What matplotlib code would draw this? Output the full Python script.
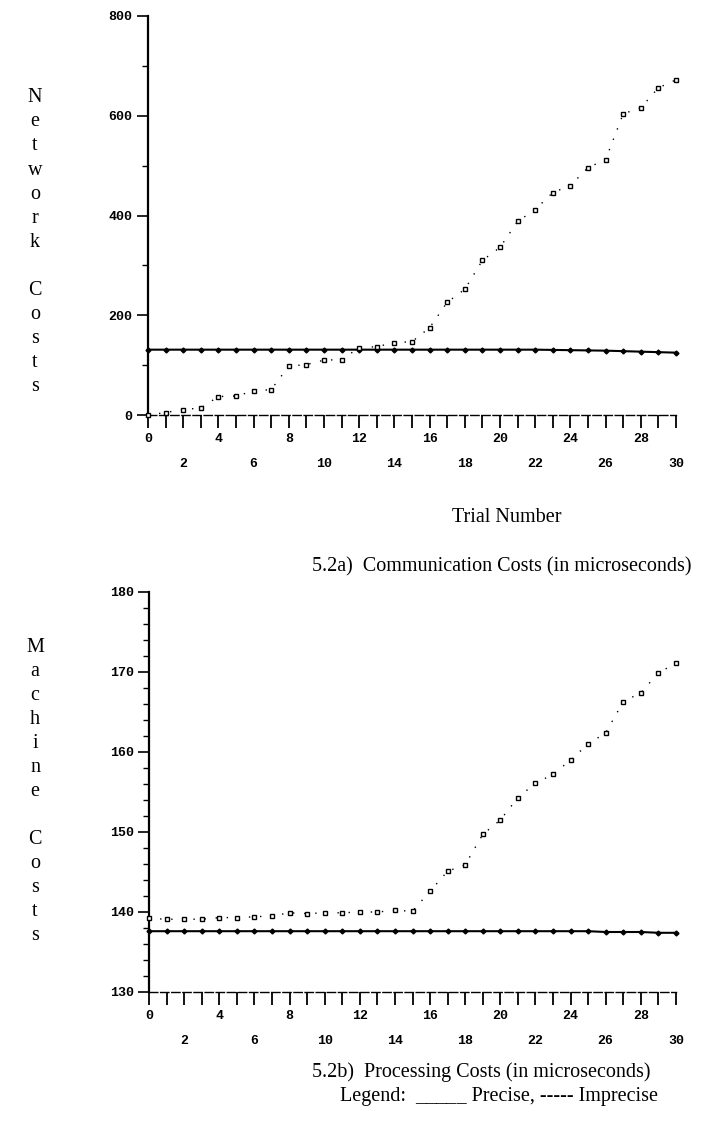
import numpy as np
import matplotlib
matplotlib.use("Agg")
import matplotlib.pyplot as plt
from matplotlib.ticker import MultipleLocator, FixedLocator

# ---- data -------------------------------------------------------------
trials = list(range(0, 31))

# Communication costs (microseconds)
comm_precise = [131, 131, 131, 131, 131, 131, 131, 131, 131, 131, 131,
                131, 131, 131, 131, 131, 131, 131, 131, 131, 131, 131,
                131, 130.5, 130, 129.5, 129, 128, 127, 126, 125]
comm_imprecise = [0, 5, 11, 14, 37, 38, 48, 51, 98, 101, 110, 111, 135,
                  137, 145, 147, 175, 226, 252, 310, 336, 388, 412, 446,
                  460, 496, 512, 604, 616, 656, 672]

# Processing costs (microseconds)
proc_precise = [137.6] * 26 + [137.5, 137.5, 137.5, 137.4, 137.4]
proc_imprecise = [139.2, 139.1, 139.1, 139.1, 139.3, 139.3, 139.4, 139.5,
                  139.9, 139.8, 139.9, 139.9, 140.0, 140.0, 140.2, 140.1,
                  142.6, 145.1, 145.9, 149.7, 151.5, 154.3, 156.1, 157.2,
                  159.0, 161.0, 162.4, 166.3, 167.4, 169.9, 171.1]

comm_yticks = [0, 200, 400, 600, 800]
proc_yticks = [130, 140, 150, 160, 170, 180]

SERIF = "Liberation Serif"
MONO = "Liberation Mono"
TEXT_SIZE = 14.5

fig = plt.figure(figsize=(7.05, 11.29), dpi=100)


def style_axes(ax, ylim, yticks, yminor):
    ax.set_xlim(0, 30)
    ax.set_ylim(*ylim)
    for side in ("top", "right"):
        ax.spines[side].set_visible(False)
    ax.spines["left"].set_linewidth(1.6)
    ax.spines["bottom"].set_linewidth(1.0)
    ax.spines["bottom"].set_linestyle((0, (6, 2)))

    ax.yaxis.set_major_locator(FixedLocator(yticks))
    ax.yaxis.set_minor_locator(MultipleLocator(yminor))
    ax.set_yticklabels([str(v) for v in yticks], fontfamily=MONO,
                       fontweight="bold", fontsize=9.5)
    ax.tick_params(axis="y", which="major", direction="out", length=8,
                   width=1.2, pad=3)
    ax.tick_params(axis="y", which="minor", direction="out", length=4,
                   width=1.0)

    # every trial gets a tick; even trials labelled on two staggered rows
    ax.set_xticks(trials)
    labels = []
    for t in trials:
        if t % 4 == 0:
            labels.append(str(t))
        elif t % 2 == 0:
            labels.append("\n" + str(t))
        else:
            labels.append("")
    ax.set_xticklabels(labels, fontfamily=MONO, fontweight="bold",
                       fontsize=9.5, linespacing=2.4)
    ax.tick_params(axis="x", which="major", direction="out", length=9.5,
                   width=1.3, pad=3.5)


def draw_series(ax, precise, imprecise):
    ax.plot(trials, precise, color="black", linewidth=1.5, marker="D",
            markersize=2.5, clip_on=False, zorder=3)
    ax.plot(trials, imprecise, color="black", linewidth=1.0,
            linestyle=(0, (1, 7)), marker="s", markersize=3.4,
            markerfacecolor="white", markeredgecolor="black",
            markeredgewidth=1.0, clip_on=False, zorder=4)


def stacked_label(x, y_top, step, word_lines):
    y = y_top
    for i, word in enumerate(word_lines):
        if i > 0:
            y -= step
        for ch in word:
            fig.text(x, y, ch, ha="center", va="center", fontfamily=SERIF,
                     fontsize=TEXT_SIZE)
            y -= step


# ---- 5.2a communication costs ----------------------------------------
ax1 = fig.add_axes([148 / 705, 1 - 415 / 1129, 528 / 705, 399 / 1129])
style_axes(ax1, (0, 800), comm_yticks, 100)
draw_series(ax1, comm_precise, comm_imprecise)
stacked_label(35 / 705, 1 - 98 / 1129, 24 / 1129, ["Network", "Costs"])
fig.text(507 / 705, 1 - 517 / 1129, "Trial Number", ha="center",
         va="center", fontfamily=SERIF, fontsize=TEXT_SIZE)
fig.text(312 / 705, 1 - 567 / 1129,
         "5.2a)  Communication Costs (in microseconds)", ha="left",
         va="center", fontfamily=SERIF, fontsize=TEXT_SIZE)

# ---- 5.2b processing costs -------------------------------------------
ax2 = fig.add_axes([149 / 705, 1 - 992 / 1129, 527 / 705, 400 / 1129])
style_axes(ax2, (130, 180), proc_yticks, 2)
draw_series(ax2, proc_precise, proc_imprecise)
stacked_label(35 / 705, 1 - 648 / 1129, 24 / 1129, ["Machine", "Costs"])
fig.text(312 / 705, 1 - 1072 / 1129,
         "5.2b)  Processing Costs (in microseconds)", ha="left",
         va="center", fontfamily=SERIF, fontsize=TEXT_SIZE)
fig.text(340 / 705, 1 - 1097 / 1129,
         "Legend:  _____ Precise, ----- Imprecise", ha="left",
         va="center", fontfamily=SERIF, fontsize=TEXT_SIZE)

fig.savefig("out.png", dpi=100, facecolor="white")
